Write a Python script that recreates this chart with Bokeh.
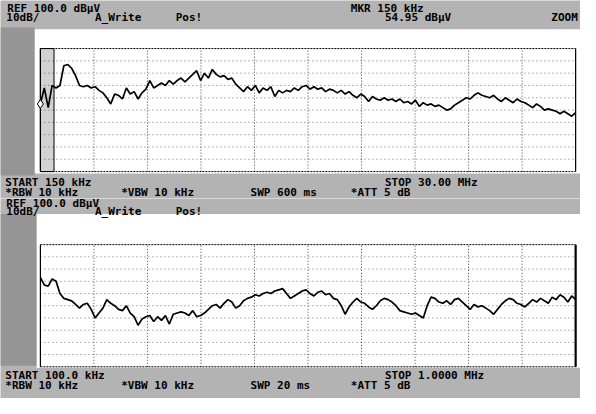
from bokeh.plotting import figure
from bokeh.models import ColumnDataSource, Range1d
from bokeh.layouts import column
from bokeh.core.properties import value
from bokeh.embed import file_html
from bokeh.resources import INLINE
import numpy as np

# ---------------- data ----------------
REF_LEVEL = 100.0          # dBuV, top of screen
DB_PER_DIV = 10.0
N_DIV = 10

top_start_mhz = 0.15
top_stop_mhz = 30.0
top_db = [55, 68, 52, 70, 68, 70, 86, 87, 84, 78,
          70, 69, 70, 68, 69, 66, 64, 60, 55, 63,
          62, 59, 68, 63, 65, 59, 64, 67, 74, 68,
          70, 72, 70, 74, 71, 74, 76, 73, 76, 79,
          82, 74, 80, 76, 83, 79, 77, 78, 75, 76,
          71, 68, 65, 69, 66, 70, 64, 68, 66, 69,
          61, 66, 64, 66, 65, 68, 66, 69, 70, 67,
          69, 67, 68, 65, 67, 66, 64, 66, 63, 65,
          62, 60, 63, 61, 57, 61, 59, 58, 60, 58,
          59, 57, 59, 56, 57, 55, 58, 53, 56, 54,
          55, 53, 54, 52, 50, 51, 54, 56, 58, 60,
          59, 62, 64, 62, 61, 60, 62, 59, 57, 60,
          58, 56, 59, 57, 56, 54, 52, 55, 53, 50,
          51, 50, 49, 47, 49, 47, 45, 48]

bot_start_khz = 100.0
bot_stop_khz = 1000.0
bot_db = [73, 67, 66, 72, 70, 60, 56, 55, 54, 51,
          48, 51, 52, 47, 40, 44, 48, 55, 52, 50,
          47, 46, 50, 44, 41, 34, 39, 41, 42, 37,
          41, 38, 42, 35, 43, 44, 45, 44, 42, 46,
          41, 42, 44, 47, 50, 51, 48, 52, 55, 53,
          48, 50, 54, 56, 57, 59, 58, 60, 61, 60,
          62, 63, 64, 60, 56, 58, 60, 62, 63, 60,
          58, 61, 62, 59, 60, 56, 55, 50, 43, 49,
          53, 56, 53, 52, 49, 47, 50, 54, 56, 55,
          53, 50, 46, 45, 44, 43, 44, 42, 40, 50,
          57, 56, 53, 52, 54, 51, 55, 56, 53, 50,
          47, 51, 49, 50, 48, 46, 43, 47, 51, 54,
          56, 55, 52, 51, 49, 52, 55, 53, 56, 54,
          52, 57, 55, 59, 57, 53, 58, 55]

marker_freq_mhz = 0.15
marker_level = 54.95

top_header = ["REF 100.0 dB\u03bcV", "10dB/", "A_Write", "Pos!",
              "MKR 150 kHz", "54.95 dB\u03bcV", "ZOOM"]
top_footer = ["START 150 kHz", "STOP 30.00 MHz",
              "*RBW 10 kHz", "*VBW 10 kHz", "SWP 600 ms", "*ATT 5 dB"]
bot_header = ["REF 100.0 dB\u03bcV", "10dB/", "A_Write", "Pos!"]
bot_footer = ["START 100.0 kHz", "STOP 1.0000 MHz",
              "*RBW 10 kHz", "*VBW 10 kHz", "SWP 20 ms", "*ATT 5 dB"]

# ---------------- layout (reference pixel geometry) ----------------
PAGE_W, PAGE_H = 580, 398
REF_W, REF_H = 596, 414
SY = PAGE_H / REF_H
GRID_L, GRID_R = 41, 591

BAND_GRAY = "#b3b3b3"
STRIP_GRAY = "#959595"
FONT = value("DejaVu Sans Mono")


def make_panel(h_ref, h_px, start, stop, levels, grid_top, grid_bot,
               white_box, strip_box, texts, zoom_box=False, marker=None,
               right_w=1.2):
    bottom_level = REF_LEVEL - N_DIV * DB_PER_DIV
    fx = lambda px: start + (px - GRID_L) * (stop - start) / (GRID_R - GRID_L)
    fy = lambda py: REF_LEVEL - (py - grid_top) * (REF_LEVEL - bottom_level) / (grid_bot - grid_top)

    p = figure(width=PAGE_W, height=h_px, output_backend="svg",
               toolbar_location=None, x_axis_type=None, y_axis_type=None,
               x_range=Range1d(fx(0), fx(REF_W)), y_range=Range1d(fy(h_ref), fy(0)),
               min_border=0, background_fill_color=BAND_GRAY,
               border_fill_color=BAND_GRAY, outline_line_color=None)

    # white screen area and dark left strip
    wx0, wy0, wx1, wy1 = white_box
    p.quad(left=[fx(wx0)], right=[fx(wx1)], top=[fy(wy0)], bottom=[fy(wy1)],
           fill_color="white", line_color=None)
    sx0, sy0, sx1, sy1 = strip_box
    p.quad(left=[fx(sx0)], right=[fx(sx1)], top=[fy(sy0)], bottom=[fy(sy1)],
           fill_color=STRIP_GRAY, line_color=None)

    if zoom_box:
        p.quad(left=[start], right=[fx(55)], top=[REF_LEVEL], bottom=[bottom_level],
               fill_color="#d2d2d2", line_color="black", line_width=1)

    # graticule: 10 x 10 divisions, limited to the screen
    xt = [start + k * (stop - start) / N_DIV for k in range(1, N_DIV)]
    yt = [REF_LEVEL - k * DB_PER_DIV for k in range(1, N_DIV)]
    p.segment(x0=xt, x1=xt, y0=[bottom_level] * len(xt), y1=[REF_LEVEL] * len(xt),
              line_color="black", line_dash="1 2", line_alpha=0.75, line_width=1)
    p.segment(x0=[start] * len(yt), x1=[stop] * len(yt), y0=yt, y1=yt,
              line_color="black", line_dash="1 3", line_alpha=0.55, line_width=1)
    p.segment(x0=[start, start], x1=[stop, stop],
              y0=[REF_LEVEL, bottom_level], y1=[REF_LEVEL, bottom_level],
              line_color="black", line_dash="2 1", line_width=1)
    p.segment(x0=[start], x1=[start], y0=[bottom_level], y1=[REF_LEVEL],
              line_color="black", line_width=1.2)
    p.segment(x0=[stop], x1=[stop], y0=[bottom_level], y1=[REF_LEVEL],
              line_color="black", line_width=right_w)

    # trace
    freqs = np.linspace(start, stop, len(levels))
    p.line(freqs, levels, line_color="black", line_width=1.7)

    if marker is not None:
        p.scatter([marker[0]], [marker[1]], marker="diamond", size=9,
                  fill_color="white", line_color="black", line_width=1)

    src = ColumnDataSource(dict(
        x=[fx(t[1]) for t in texts], y=[fy(t[2]) for t in texts],
        text=[t[0] for t in texts]))
    p.text(x="x", y="y", text="text", source=src, text_font=FONT,
           text_font_style="bold", text_font_size="11px",
           text_baseline="top", text_align="left", text_color="black")
    return p


TOP_H_REF = 206
top_h = round(TOP_H_REF * SY)
bot_h = PAGE_H - top_h
D = TOP_H_REF  # offset of bottom panel in reference pixels

top_texts = [(top_header[0], 7, 2), (top_header[1], 6, 11), (top_header[2], 97, 11),
             (top_header[3], 180, 11), (top_header[4], 360, 2), (top_header[5], 395, 11),
             (top_header[6], 566, 11),
             (top_footer[0], 5, 183), (top_footer[1], 395, 183),
             (top_footer[2], 5, 193), (top_footer[3], 124, 193),
             (top_footer[4], 257, 193), (top_footer[5], 360, 193)]

bot_texts = [(bot_header[0], 6, 204 - D), (bot_header[1], 6, 213 - D),
             (bot_header[2], 97, 213 - D), (bot_header[3], 180, 213 - D),
             (bot_footer[0], 5, 383 - D), (bot_footer[1], 395, 383 - D),
             (bot_footer[2], 5, 394 - D), (bot_footer[3], 124, 394 - D),
             (bot_footer[4], 257, 394 - D), (bot_footer[5], 360, 394 - D)]

p_top = make_panel(TOP_H_REF, top_h, top_start_mhz, top_stop_mhz, top_db,
                   50, 178, (35, 30, REF_W, 180), (0, 28, 35, 182), top_texts,
                   zoom_box=True, marker=(marker_freq_mhz, marker_level))

p_bot = make_panel(REF_H - TOP_H_REF, bot_h, bot_start_khz, bot_stop_khz, bot_db,
                   254 - D, 381 - D, (37, 222 - D, REF_W, 382 - D),
                   (0, 222 - D, 37, 380 - D), bot_texts, right_w=2.2)

layout = column(p_top, p_bot, spacing=0)
open("out.html", "w").write(file_html(layout, INLINE))
